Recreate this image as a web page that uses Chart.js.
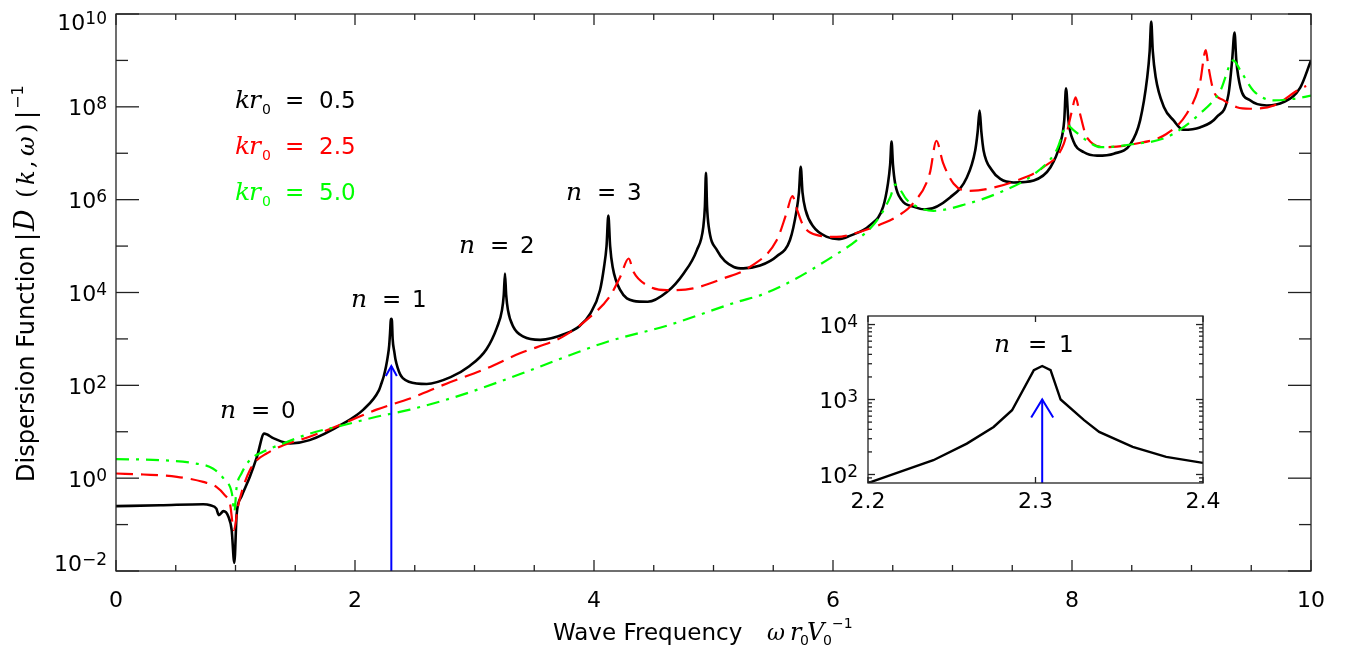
<!DOCTYPE html>
<html><head><meta charset="utf-8">
<script src="https://cdn.jsdelivr.net/npm/chart.js@4.4.1/dist/chart.umd.min.js"></script>
<style>
html,body{margin:0;padding:0;background:#fff;}
#wrap{position:relative;width:1346px;height:648px;overflow:hidden;}
#main{position:absolute;left:0;top:0;}
#inset{position:absolute;left:800px;top:300px;}
</style></head><body>
<div id="wrap"><canvas id="main" width="1346" height="648"></canvas><canvas id="inset" width="420" height="240"></canvas></div>
<script>
// ---- data: |D(k,w)|^-1 vs w r0/V0 ----
const freqK05 = [0,0.37,0.73,0.79,0.84,0.86,0.90,0.94,0.968,0.99,1.01,1.05,1.12,1.18,1.24,1.32,1.46,1.62,1.90,2.07,2.20,2.22,2.24,2.26,2.275,2.286,2.293,2.299,2.304,2.309,2.315,2.329,2.338,2.358,2.378,2.40,2.45,2.60,2.80,2.95,3.10,3.19,3.23,3.245,3.255,3.265,3.28,3.325,3.41,3.55,3.77,3.88,3.97,4.05,4.084,4.105,4.12,4.135,4.156,4.22,4.33,4.45,4.61,4.75,4.86,4.915,4.928,4.937,4.946,4.96,5.03,5.17,5.25,5.39,5.53,5.64,5.696,5.715,5.73,5.745,5.77,5.835,5.95,6.05,6.14,6.31,6.42,6.46,6.478,6.49,6.502,6.52,6.575,6.67,6.78,6.98,7.12,7.19,7.21,7.227,7.242,7.26,7.33,7.40,7.51,7.68,7.82,7.90,7.935,7.95,7.97,8.01,8.10,8.21,8.35,8.49,8.57,8.63,8.65,8.663,8.676,8.70,8.77,8.85,8.93,9.07,9.21,9.31,9.34,9.36,9.375,9.41,9.49,9.63,9.77,9.91,10];
const dispK05 = [0.25,0.26,0.275,0.26,0.22,0.16,0.195,0.15,0.076,0.015,0.17,0.40,1.07,2.9,9.1,7.2,5.6,6.6,15,30,78,108,155,257,430,720,1300,2450,2700,2450,1000,525,370,235,172,143,120,107,150,251,600,1820,4170,8900,25700,8900,4170,1820,1120,955,1320,1900,3550,11200,35500,100000,457000,100000,35500,11200,6600,6300,10200,25700,81000,263000,708000,3.8e6,708000,263000,81000,35500,33100,38000,60300,135000,603000,1.41e6,5.1e6,1.41e6,603000,263000,158000,141000,166000,282000,708000,2.24e6,5.6e6,1.78e7,5.6e6,2.24e6,977000,708000,617000,1.12e6,3.0e6,1.15e7,2.8e7,8.3e7,2.8e7,1.15e7,4.3e6,2.8e6,2.35e6,2.6e6,5.0e6,1.58e7,5.1e7,2.5e8,5.1e7,1.86e7,1.05e7,8.9e6,9.8e6,1.58e7,5.1e7,4.4e8,1.58e9,6.9e9,1.58e9,4.4e8,9.8e7,5.1e7,3.2e7,3.6e7,6.0e7,1.9e8,1.0e9,4.0e9,1.0e9,2.6e8,1.38e8,1.07e8,1.26e8,2.6e8,1.0e9];

const freqK25 = [0,0.23,0.51,0.73,0.84,0.91,0.954,0.987,1.02,1.065,1.12,1.18,1.26,1.40,1.62,1.90,2.18,2.46,2.77,3.07,3.38,3.74,3.97,4.13,4.22,4.29,4.33,4.44,4.61,4.83,5.08,5.305,5.53,5.61,5.66,5.70,5.75,5.86,6.03,6.23,6.42,6.53,6.67,6.81,6.865,6.92,7.01,7.12,7.29,7.54,7.76,7.93,8.00,8.03,8.06,8.125,8.29,8.52,8.79,8.96,9.07,9.12,9.14,9.185,9.27,9.38,9.49,9.69,9.91,9.96];
const dispK25 = [1.26,1.2,1.07,0.83,0.65,0.43,0.28,0.076,0.24,0.65,1.48,2.45,3.4,5.1,7.8,15,30,52,110,214,490,1120,3020,8100,21900,54000,28000,14500,11200,12300,20000,35500,135000,500000,1.2e6,600000,282000,174000,158000,204000,309000,427000,830000,3.7e6,1.86e7,6.3e6,2.2e6,1.55e6,1.7e6,2.6e6,5.0e6,1.58e7,8.3e7,1.6e8,8.3e7,2.2e7,1.35e7,1.58e7,2.6e7,7.1e7,3.2e8,1.66e9,7.8e8,2.2e8,1.38e8,9.8e7,9.1e7,1.07e8,2.45e8,2.8e8];

const freqK50 = [0,0.37,0.65,0.81,0.91,0.97,0.99,1.01,1.05,1.12,1.23,1.40,1.62,1.90,2.18,2.46,2.9,3.4,3.75,4.1,4.63,5.2,5.4,5.67,5.95,6.20,6.37,6.48,6.52,6.62,6.70,6.84,7.12,7.40,7.68,7.87,7.96,8.01,8.125,8.24,8.52,8.79,9.07,9.24,9.35,9.41,9.52,9.69,9.85,10];
const dispK50 = [2.57,2.45,2.1,1.62,0.91,0.47,0.19,0.65,1.26,2.45,3.7,5.6,9.1,13.8,21,30,63,182,400,850,2000,6300,8900,18600,50000,135000,363000,1.15e6,2.1e6,980000,710000,575000,810000,1.45e6,3.5e6,1.15e7,4.0e7,3.2e7,1.86e7,1.35e7,1.58e7,2.2e7,7.1e7,2.2e8,1.0e9,6.0e8,2.2e8,1.38e8,1.48e8,1.74e8];

// inset: zoom around n = 1 resonance (kr0 = 0.5)
const freqInset = [2.2,2.219,2.239,2.259,2.275,2.286,2.299,2.304,2.309,2.315,2.329,2.338,2.358,2.378,2.4];
const dispInset = [77,108,155,258,431,720,2470,2800,2470,1000,530,370,233,172,143];

// arrows (resonance position)
const arrowFreq = 2.304;
const arrowTopMain = 260;
const arrowTopInset = 1000;

// axes ticks
const xTicks = [0,2,4,6,8,10];
const xTickLabels = ['0','2','4','6','8','10'];
const xMinor = [0.5,1,1.5,2.5,3,3.5,4.5,5,5.5,6.5,7,7.5,8.5,9,9.5];
const yTicks = [1e-2,1e0,1e2,1e4,1e6,1e8,1e10];
const yTickExp = ['\u22122','0','2','4','6','8','10'];
const yMinor = [1e-1,1e1,1e3,1e5,1e7,1e9];
const insetXTicks = [2.2,2.3,2.4];
const insetXLabels = ['2.2','2.3','2.4'];
const insetYTicks = [1e2,1e3,1e4];
const insetYExp = ['2','3','4'];
const insetYMinor = [80,90,200,300,400,500,600,700,800,900,2000,3000,4000,5000,6000,7000,8000,9000];

const legendLabels = ['0.5','2.5','5.0'];
const legendColors = ['#000000','#ff0000','#00ff00'];

// ---- helpers ----
const SANS = '"DejaVu Sans", sans-serif';
const SERIF = '"DejaVu Serif", serif';
const F = (s, fam, it) => (it ? 'italic ' : '') + s + 'px ' + fam;
const pts = (xs, ys) => xs.map((x, i) => ({x: x, y: ys[i]}));
function runs(ctx, list){ list.forEach(r => { ctx.font = r[1]; ctx.fillText(r[0], r[2], r[3]); }); }
function seg(ctx, x1, y1, x2, y2){ ctx.beginPath(); ctx.moveTo(x1, y1); ctx.lineTo(x2, y2); ctx.stroke(); }
function arrow(ctx, xs, ys, xv, yTop, headLen, headHalf){
  const px = xs.getPixelForValue(xv), top = ys.getPixelForValue(yTop), bot = ys.bottom;
  ctx.save();
  ctx.strokeStyle = '#0000ff'; ctx.lineWidth = 2; ctx.lineCap = 'butt';
  seg(ctx, px, bot, px, top);
  ctx.beginPath(); ctx.moveTo(px - headHalf, top + headLen); ctx.lineTo(px, top); ctx.lineTo(px + headHalf, top + headLen); ctx.stroke();
  ctx.restore();
}
function powLabel(ctx, exp, right, tickY, sz, esz){
  ctx.textAlign = 'left';
  ctx.font = F(esz, SANS); const ew = ctx.measureText(exp).width;
  ctx.font = F(sz, SANS); const bw = ctx.measureText('10').width;
  const base = tickY + sz * 0.385;
  ctx.fillText('10', right - ew - bw, base);
  ctx.font = F(esz, SANS); ctx.fillText(exp, right - ew, base - 6);
}

const mainDecor = {
  id: 'mainDecor',
  afterDatasetsDraw(chart){
    const {ctx, scales: {x, y}} = chart;
    arrow(ctx, x, y, arrowFreq, arrowTopMain, 10, 5.5);
  },
  afterDraw(chart){
    const {ctx, chartArea: a, scales: {x, y}} = chart;
    ctx.save();
    ctx.strokeStyle = '#222'; ctx.lineWidth = 1.3;
    ctx.strokeRect(a.left, a.top, a.right - a.left, a.bottom - a.top);
    xTicks.forEach(v => { const p = x.getPixelForValue(v); seg(ctx, p, a.bottom, p, a.bottom - 11); seg(ctx, p, a.top, p, a.top + 11); });
    xMinor.forEach(v => { const p = x.getPixelForValue(v); seg(ctx, p, a.bottom, p, a.bottom - 6); seg(ctx, p, a.top, p, a.top + 6); });
    yTicks.forEach(v => { const p = y.getPixelForValue(v); seg(ctx, a.left, p, a.left + 23, p); seg(ctx, a.right, p, a.right - 23, p); });
    yMinor.forEach(v => { const p = y.getPixelForValue(v); seg(ctx, a.left, p, a.left + 12, p); seg(ctx, a.right, p, a.right - 12, p); });
    ctx.fillStyle = '#000'; ctx.textBaseline = 'alphabetic';
    // x tick labels
    ctx.font = F(22, SANS); ctx.textAlign = 'center';
    xTicks.forEach((v, i) => ctx.fillText(xTickLabels[i], x.getPixelForValue(v), a.bottom + 36));
    // y tick labels
    yTicks.forEach((v, i) => {
      let p = y.getPixelForValue(v);
      if (i === 0) p -= 8; if (i === yTicks.length - 1) p += 8;
      powLabel(ctx, yTickExp[i], a.left - 9, p, 22, 17);
    });
    ctx.textAlign = 'left';
    // legend text
    legendLabels.forEach((lab, i) => {
      const b = 108 + i * 46;
      ctx.fillStyle = legendColors[i];
      runs(ctx, [['k', F(25, SERIF, true), 235, b], ['r', F(25, SERIF, true), 249, b], ['0', F(14, SANS), 262, b + 6], ['=', F(23, SANS), 285, b], [lab, F(23, SANS), 319, b]]);
    });
    ctx.fillStyle = '#000';
    // resonance labels
    [['0', 220, 418], ['1', 351, 307], ['2', 459, 253], ['3', 566, 200]].forEach(l => {
      runs(ctx, [['n', F(25, SERIF, true), l[1], l[2]], ['=', F(23, SANS), l[1] + 31, l[2]], [l[0], F(23, SANS), l[1] + 61, l[2]]]);
    });
    // x title
    runs(ctx, [['Wave Frequency', F(23, SANS), 553, 640], ['\u03c9', F(22, SERIF, true), 767, 640], ['r', F(24, SERIF, true), 790, 640],
      ['0', F(14, SANS), 800, 645], ['V', F(24, SERIF, true), 807, 640], ['0', F(14, SANS), 823, 645], ['\u22121', F(14, SANS), 832, 628]]);
    // y title (rotated)
    ctx.save(); ctx.translate(34, 482); ctx.rotate(-Math.PI / 2);
    runs(ctx, [['Dispersion Function', F(24, SANS), 0, 0], ['|', F(24, SANS), 241, 0], ['D', F(27, SERIF, true), 251, 0], ['(', F(24, SERIF), 284, 0],
      ['k', F(24, SERIF, true), 297, 0], [',', F(24, SERIF), 314, 0], ['\u03c9', F(24, SERIF, true), 326, 0], [')', F(24, SERIF), 349, 0],
      ['|', F(24, SANS), 363, 0], ['\u22121', F(16, SANS), 373, -11]]);
    ctx.restore();
    ctx.restore();
  }
};

new Chart(document.getElementById('main'), {
  type: 'line',
  data: { datasets: [
    { label: 'kr0 = 5.0', data: pts(freqK50, dispK50), borderColor: '#00ff00', borderWidth: 2.2, borderDash: [13, 7, 3, 7], pointRadius: 0, fill: false, cubicInterpolationMode: 'monotone', order: 0 },
    { label: 'kr0 = 2.5', data: pts(freqK25, dispK25), borderColor: '#ff0000', borderWidth: 2.2, borderDash: [17, 8], pointRadius: 0, fill: false, cubicInterpolationMode: 'monotone', order: 1 },
    { label: 'kr0 = 0.5', data: pts(freqK05, dispK05), borderColor: '#000000', borderWidth: 2.6, pointRadius: 0, fill: false, cubicInterpolationMode: 'monotone', order: 2 }
  ]},
  options: {
    responsive: false, animation: false, events: [],
    layout: { padding: { left: 116, top: 14, right: 35, bottom: 77 } },
    plugins: { legend: { display: false }, tooltip: { enabled: false } },
    scales: {
      x: { type: 'linear', min: 0, max: 10, display: false },
      y: { type: 'logarithmic', min: 1e-2, max: 1e10, display: false }
    }
  },
  plugins: [mainDecor]
});

const insetDecor = {
  id: 'insetDecor',
  beforeDraw(chart){
    const {ctx, chartArea: a} = chart;
    ctx.save(); ctx.fillStyle = '#fff'; ctx.fillRect(a.left, a.top, a.right - a.left, a.bottom - a.top); ctx.restore();
  },
  afterDatasetsDraw(chart){
    const {ctx, scales: {x, y}} = chart;
    arrow(ctx, x, y, arrowFreq, arrowTopInset, 18, 11);
  },
  afterDraw(chart){
    const {ctx, chartArea: a, scales: {x, y}} = chart;
    ctx.save();
    ctx.strokeStyle = '#222'; ctx.lineWidth = 1.3;
    ctx.strokeRect(a.left, a.top, a.right - a.left, a.bottom - a.top);
    insetXTicks.forEach(v => { const p = x.getPixelForValue(v); seg(ctx, p, a.bottom, p, a.bottom - 6); seg(ctx, p, a.top, p, a.top + 6); });
    insetYTicks.forEach(v => { const p = y.getPixelForValue(v); seg(ctx, a.left, p, a.left + 7, p); seg(ctx, a.right, p, a.right - 7, p); });
    insetYMinor.forEach(v => { const p = y.getPixelForValue(v); seg(ctx, a.left, p, a.left + 4, p); seg(ctx, a.right, p, a.right - 4, p); });
    ctx.fillStyle = '#000'; ctx.textBaseline = 'alphabetic';
    ctx.font = F(22, SANS); ctx.textAlign = 'center';
    insetXTicks.forEach((v, i) => ctx.fillText(insetXLabels[i], x.getPixelForValue(v), a.bottom + 25));
    insetYTicks.forEach((v, i) => powLabel(ctx, insetYExp[i], a.left - 10, y.getPixelForValue(v), 22, 17));
    ctx.textAlign = 'left';
    runs(ctx, [['n', F(25, SERIF, true), 194, 52], ['=', F(23, SANS), 228, 52], ['1', F(23, SANS), 259, 52]]);
    ctx.restore();
  }
};

new Chart(document.getElementById('inset'), {
  type: 'line',
  data: { datasets: [
    { label: 'kr0 = 0.5 (n = 1)', data: pts(freqInset, dispInset), borderColor: '#000000', borderWidth: 2.4, pointRadius: 0, fill: false, tension: 0 }
  ]},
  options: {
    responsive: false, animation: false, events: [],
    layout: { padding: { left: 68, top: 16, right: 17, bottom: 57 } },
    plugins: { legend: { display: false }, tooltip: { enabled: false } },
    scales: {
      x: { type: 'linear', min: 2.2, max: 2.4, display: false },
      y: { type: 'logarithmic', min: 77, max: 13000, display: false }
    }
  },
  plugins: [insetDecor]
});
</script>
</body></html>
